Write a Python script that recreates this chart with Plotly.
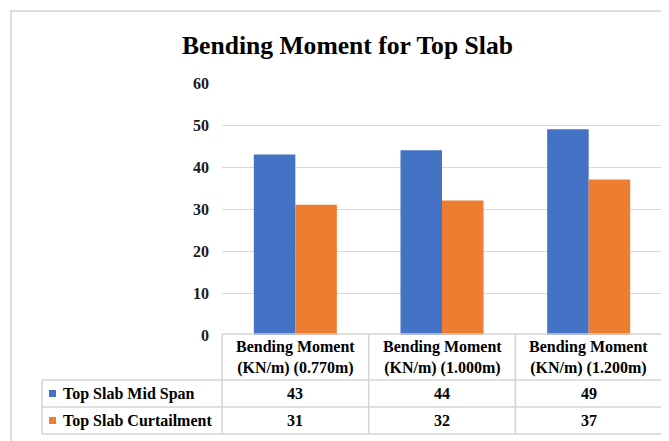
import plotly.graph_objects as go

W, H = 669, 441

categories = ["Bending Moment<br>(KN/m) (0.770m)",
              "Bending Moment<br>(KN/m) (1.000m)",
              "Bending Moment<br>(KN/m) (1.200m)"]
series_names = ["Top Slab Mid Span", "Top Slab Curtailment"]
mid_span = [43, 44, 49]
curtailment = [31, 32, 37]
y_ticks = [0, 10, 20, 30, 40, 50, 60]
colors = ["#4472C4", "#ED7D31"]
series_values = [mid_span, curtailment]

FONT = "Liberation Serif, Times New Roman, serif"
GRID = "#D9D9D9"
BORDER = "#D4D4D4"

# page body margin shifts the figure by 8px; compensate so screen pixels match
OFF = 8

def px(x):
    return (x - OFF) / W

def py(y):
    return 1 - (y - OFF) / H

plot_l, plot_r, plot_t, plot_b = 222, 662, 83, 335
row_tops = [380, 407, 434]
legend_l = 42

fig = go.Figure()
xs = [0, 1, 2]
for name, vals, c in zip(series_names, series_values, colors):
    fig.add_trace(go.Bar(x=xs, y=vals, name=name, marker=dict(color=c, line=dict(width=0)),
                         hoverinfo="y"))

fig.update_layout(
    template="none",
    width=W, height=H, autosize=False,
    margin=dict(l=0, r=0, t=0, b=0, pad=0),
    paper_bgcolor="white", plot_bgcolor="white",
    barmode="group", bargap=0.434, bargroupgap=0,
    showlegend=False,
    xaxis=dict(domain=[px(plot_l), px(plot_r)], range=[-0.5, 2.5], showticklabels=False,
               showgrid=False, zeroline=False, showline=False, fixedrange=True, automargin=False),
    yaxis=dict(domain=[py(plot_b), py(plot_t)], range=[0, 60], tickvals=y_ticks,
               showgrid=True, gridcolor=GRID, gridwidth=1.3, zeroline=False, showline=False,
               ticks="", ticklabelstandoff=12, automargin=False,
               tickfont=dict(family=FONT, size=16, color="#1a1a1a", weight="bold")),
)

shapes = []
# outer chart border
shapes.append(dict(type="rect", xref="paper", yref="paper", x0=px(11), x1=px(W + 30),
                   y0=py(H + 30), y1=py(11), line=dict(color=BORDER, width=1.5)))
# table lines
shapes.append(dict(type="line", xref="paper", yref="paper", x0=px(plot_l), x1=px(plot_r),
                   y0=py(plot_b - 1), y1=py(plot_b - 1), line=dict(color=BORDER, width=1.5)))
for yy in row_tops:
    shapes.append(dict(type="line", xref="paper", yref="paper", x0=px(legend_l), x1=px(plot_r),
                       y0=py(yy), y1=py(yy), line=dict(color=BORDER, width=1.5)))
col_w = (plot_r - plot_l) / len(categories)
for i in range(len(categories) + 1):
    xx = plot_l + i * col_w
    shapes.append(dict(type="line", xref="paper", yref="paper", x0=px(xx), x1=px(xx),
                       y0=py(plot_b - 1), y1=py(row_tops[-1]), line=dict(color=BORDER, width=1.5)))
shapes.append(dict(type="line", xref="paper", yref="paper", x0=px(legend_l), x1=px(legend_l),
                   y0=py(row_tops[0]), y1=py(row_tops[-1]), line=dict(color=BORDER, width=1.5)))
# legend keys
for r, c in enumerate(colors):
    cy = (row_tops[r] + row_tops[r + 1]) / 2
    shapes.append(dict(type="rect", xref="paper", yref="paper", x0=px(49), x1=px(56),
                       y0=py(cy + 3.5), y1=py(cy - 3.5), fillcolor=c, line=dict(width=0)))

ann = []
ann.append(dict(text="Bending Moment for Top Slab", xref="paper", yref="paper",
                x=px(347), y=py(45), xanchor="center", yanchor="middle", showarrow=False,
                font=dict(family=FONT, size=25.6, color="black", weight="bold")))
tfont = dict(family=FONT, size=16, color="black", weight="bold")
for i, cat in enumerate(categories):
    ann.append(dict(text=cat, xref="x", yref="paper", x=xs[i], y=py((plot_b + row_tops[0]) / 2),
                    xanchor="center", yanchor="middle", showarrow=False, font=tfont))
for r, (name, vals) in enumerate(zip(series_names, series_values)):
    cy = (row_tops[r] + row_tops[r + 1]) / 2
    ann.append(dict(text=name, xref="paper", yref="paper", x=px(61), y=py(cy),
                    xanchor="left", yanchor="middle", showarrow=False, font=tfont))
    for i, v in enumerate(vals):
        ann.append(dict(text=str(v), xref="x", yref="paper", x=xs[i], y=py(cy),
                        xanchor="center", yanchor="middle", showarrow=False, font=tfont))

fig.update_layout(shapes=shapes, annotations=ann)
fig.write_html("out.html")
